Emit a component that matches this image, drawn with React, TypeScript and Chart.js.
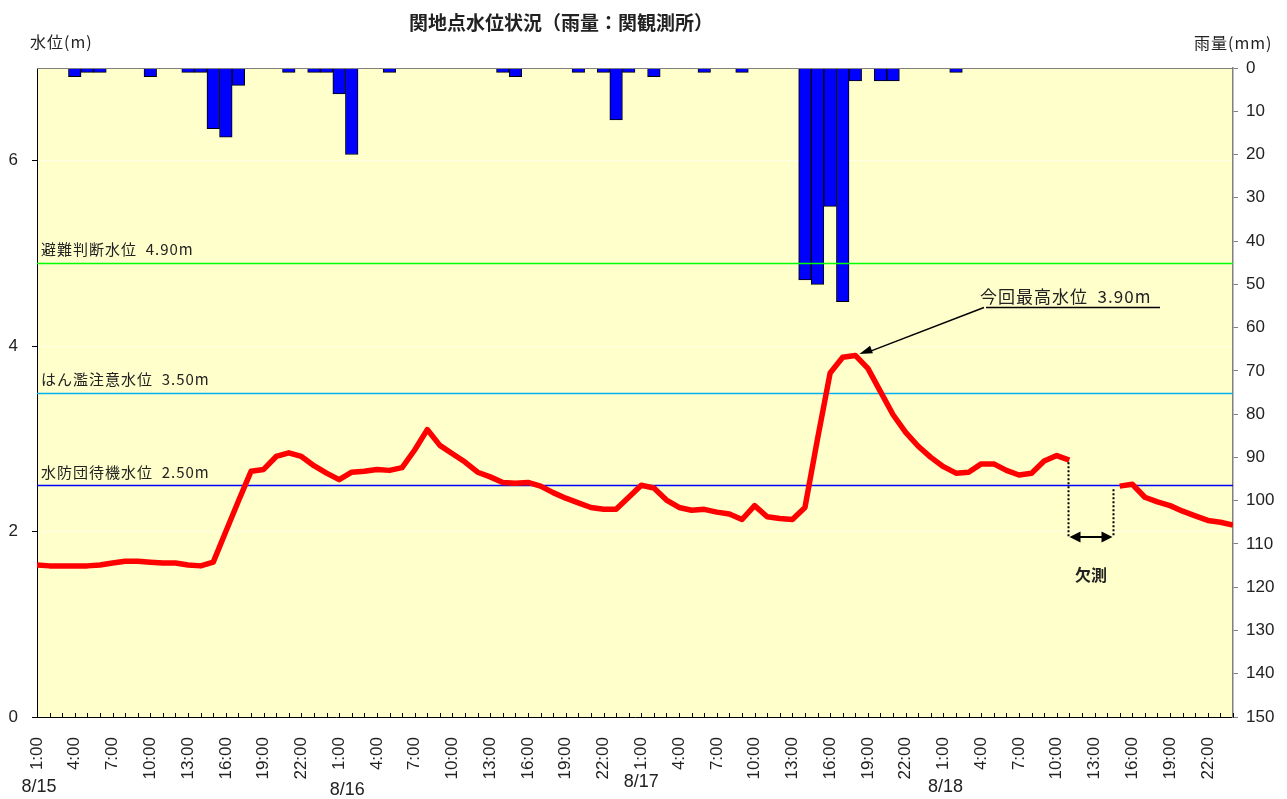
import React, { useEffect, useRef } from 'react';
import { Chart, registerables } from 'chart.js';

Chart.register(...registerables);

// ---------- data ----------
const days = ['8/15', '8/16', '8/17', '8/18'];
const hours = [
  '1:00', '2:00', '3:00', '4:00', '5:00', '6:00', '7:00', '8:00', '9:00', '10:00', '11:00', '12:00',
  '13:00', '14:00', '15:00', '16:00', '17:00', '18:00', '19:00', '20:00', '21:00', '22:00', '23:00', '24:00',
];
const categories = days.flatMap((d) => hours.map((h) => `${d} ${h}`));

// water level (m), hourly, 8/15 1:00 -> 8/18 24:00 (null = missing)
const waterLevel: (number | null)[] = [
  1.64, 1.63, 1.63, 1.63, 1.63, 1.64, 1.66, 1.68, 1.68, 1.67, 1.66, 1.66,
  1.64, 1.63, 1.67, 2.00, 2.33, 2.65, 2.67, 2.81, 2.85, 2.81, 2.71, 2.63,
  2.56, 2.64, 2.65, 2.67, 2.66, 2.69, 2.88, 3.10, 2.93, 2.84, 2.75, 2.64,
  2.59, 2.53, 2.52, 2.53, 2.49, 2.42, 2.36, 2.31, 2.26, 2.24, 2.24, 2.37,
  2.50, 2.47, 2.34, 2.26, 2.23, 2.24, 2.21, 2.19, 2.13, 2.28, 2.16, 2.14,
  2.13, 2.26, 3.00, 3.71, 3.88, 3.90, 3.76, 3.51, 3.26, 3.07, 2.92, 2.80,
  2.70, 2.63, 2.64, 2.73, 2.73, 2.66, 2.61, 2.63, 2.76, 2.82, 2.77, null,
  null, null, 2.49, 2.51, 2.37, 2.32, 2.28, 2.22, 2.17, 2.12, 2.10, 2.07,
];

// hourly rainfall (mm)
const rainfall: number[] = [
  0, 0, 0, 2, 1, 1, 0, 0, 0, 2, 0, 0,
  1, 1, 14, 16, 4, 0, 0, 0, 1, 0, 1, 1,
  6, 20, 0, 0, 1, 0, 0, 0, 0, 0, 0, 0,
  0, 1, 2, 0, 0, 0, 0, 1, 0, 1, 12, 1,
  0, 2, 0, 0, 0, 1, 0, 0, 1, 0, 0, 0,
  0, 49, 50, 32, 54, 3, 0, 3, 3, 0, 0, 0,
  0, 1, 0, 0, 0, 0, 0, 0, 0, 0, 0, 0,
  0, 0, 0, 0, 0, 0, 0, 0, 0, 0, 0, 0,
];

const thresholdValues = [4.9, 3.5, 2.5];
const thresholdLabels = ['避難判断水位  4.90m', 'はん濫注意水位  3.50m', '水防団待機水位  2.50m'];
const thresholdColors = ['#00FF00', '#00B0F0', '#0000FF'];

const chartTitle = '関地点水位状況（雨量：関観測所）';
const leftAxisTitle = '水位(m)';
const rightAxisTitle = '雨量(mm)';
const peakLabel = '今回最高水位  3.90m';
const missingLabel = '欠測';
const dayLabelIndex = [0, 24, 48, 72];

// ---------- layout ----------
const W = 1287;
const H = 799;
const PLOT_LEFT = 37;
const PLOT_RIGHT = 1233;
const PLOT_TOP = 68;
const PLOT_BOTTOM = 717;
const FONT_LATIN = "'Liberation Sans', 'Noto Sans CJK JP', sans-serif";
const FONT_CJK = "'Noto Sans CJK JP', 'Liberation Sans', sans-serif";
const TEXT = '#222';

function arrowHead(ctx: CanvasRenderingContext2D, fx: number, fy: number, tx: number, ty: number, len: number, wid: number) {
  const ang = Math.atan2(ty - fy, tx - fx);
  const c = Math.cos(ang);
  const s = Math.sin(ang);
  ctx.beginPath();
  ctx.moveTo(tx, ty);
  ctx.lineTo(tx - len * c + (wid / 2) * s, ty - len * s - (wid / 2) * c);
  ctx.lineTo(tx - len * c - (wid / 2) * s, ty - len * s + (wid / 2) * c);
  ctx.closePath();
  ctx.fill();
}

const overlayPlugin = {
  id: 'overlay',
  beforeDraw(chart: any) {
    const { ctx, chartArea: a } = chart;
    ctx.save();
    ctx.fillStyle = '#FFFFCC';
    ctx.fillRect(a.left, a.top, a.right - a.left, a.bottom - a.top);
    ctx.restore();
  },
  beforeDatasetDraw(chart: any, args: any) {
    if (args.index !== 1) return;
    const { ctx, chartArea: a, scales } = chart;
    ctx.save();
    thresholdValues.forEach((v, k) => {
      const py = Math.round(scales.y.getPixelForValue(v)) + 0.5;
      ctx.strokeStyle = thresholdColors[k];
      ctx.lineWidth = 1.5;
      ctx.beginPath();
      ctx.moveTo(a.left, py);
      ctx.lineTo(a.right, py);
      ctx.stroke();
    });
    ctx.restore();
  },
  afterDraw(chart: any) {
    const { ctx, chartArea: a, scales } = chart;
    const xs = scales.x;
    const ys = scales.y;
    ctx.save();

    // top border
    ctx.strokeStyle = '#808080';
    ctx.lineWidth = 1;
    ctx.beginPath();
    ctx.moveTo(a.left, a.top + 0.5);
    ctx.lineTo(a.right, a.top + 0.5);
    ctx.stroke();

    // hourly minor ticks on the category axis (inward)
    ctx.strokeStyle = '#000';
    ctx.lineWidth = 1;
    for (let i = 0; i < categories.length; i++) {
      const px = Math.round(xs.getPixelForValue(i)) + 0.5;
      ctx.beginPath();
      ctx.moveTo(px, a.bottom);
      ctx.lineTo(px, a.bottom - 4);
      ctx.stroke();
    }

    // title
    ctx.fillStyle = TEXT;
    ctx.textBaseline = 'middle';
    ctx.textAlign = 'center';
    ctx.font = `bold 19px ${FONT_CJK}`;
    ctx.fillText(chartTitle, 561, 23);

    // axis titles
    ctx.font = `16px ${FONT_CJK}`;
    (ctx as any).letterSpacing = '1px';
    ctx.textAlign = 'left';
    ctx.fillText(leftAxisTitle, 30, 42);
    ctx.fillText(rightAxisTitle, 1194, 43);

    // threshold labels
    ctx.font = `15px ${FONT_CJK}`;
    (ctx as any).letterSpacing = '1px';
    thresholdValues.forEach((v, k) => {
      const py = ys.getPixelForValue(v);
      ctx.fillText(thresholdLabels[k], a.left + 4, py - 13);
    });

    // date labels
    (ctx as any).letterSpacing = '0px';
    ctx.font = `18px ${FONT_LATIN}`;
    ctx.textAlign = 'center';
    const dayDx = [2, 8, 0, 2];
    const dayY = [787, 790, 782, 787];
    dayLabelIndex.forEach((idx, k) => {
      ctx.fillText(days[k], xs.getPixelForValue(idx) + dayDx[k], dayY[k]);
    });

    // peak annotation
    let peakIdx = 0;
    waterLevel.forEach((v, i) => {
      if (v !== null && v > (waterLevel[peakIdx] as number)) peakIdx = i;
    });
    const pkx = xs.getPixelForValue(peakIdx) + 4;
    const pky = ys.getPixelForValue(waterLevel[peakIdx] as number) - 3;
    ctx.textAlign = 'left';
    ctx.font = `17px ${FONT_CJK}`;
    (ctx as any).letterSpacing = '1px';
    ctx.fillText(peakLabel, 980, 297);
    (ctx as any).letterSpacing = '0px';
    ctx.strokeStyle = '#000';
    ctx.fillStyle = '#000';
    ctx.lineWidth = 1.5;
    ctx.beginPath();
    ctx.moveTo(986, 307.5);
    ctx.lineTo(1160, 307.5);
    ctx.stroke();
    ctx.beginPath();
    ctx.moveTo(984, 307.5);
    ctx.lineTo(pkx + 8, pky + 0);
    ctx.stroke();
    arrowHead(ctx, 984, 307.5, pkx, pky + 1.5, 13, 8);

    // missing-data annotation
    let lastIdx = 0;
    let nextIdx = 0;
    for (let i = 1; i < waterLevel.length; i++) {
      if (waterLevel[i] === null && waterLevel[i - 1] !== null) lastIdx = i - 1;
      if (waterLevel[i] !== null && waterLevel[i - 1] === null) nextIdx = i;
    }
    const xA = Math.round(xs.getPixelForValue(lastIdx)) - 0.5;
    const xB = Math.round(xs.getPixelForValue(nextIdx - 0.5)) + 0.5;
    const yArrow = 537;
    ctx.setLineDash([2, 2]);
    ctx.lineWidth = 2;
    ctx.beginPath();
    ctx.moveTo(xA, ys.getPixelForValue(waterLevel[lastIdx] as number) + 2);
    ctx.lineTo(xA, yArrow);
    ctx.moveTo(xB, ys.getPixelForValue(waterLevel[nextIdx] as number) + 3);
    ctx.lineTo(xB, yArrow);
    ctx.stroke();
    ctx.setLineDash([]);
    ctx.lineWidth = 2;
    ctx.beginPath();
    ctx.moveTo(xA + 6, yArrow);
    ctx.lineTo(xB - 6, yArrow);
    ctx.stroke();
    arrowHead(ctx, xB, yArrow, xA + 1, yArrow, 11, 11);
    arrowHead(ctx, xA, yArrow, xB - 1, yArrow, 11, 11);

    ctx.fillStyle = TEXT;
    ctx.textAlign = 'center';
    ctx.font = `bold 16px ${FONT_CJK}`;
    ctx.fillText(missingLabel, (xA + xB) / 2, 575);

    ctx.restore();
  },
};

export default function App() {
  const ref = useRef<HTMLCanvasElement | null>(null);

  useEffect(() => {
    if (!ref.current) return;
    Chart.defaults.font.family = FONT_LATIN;
    const chart = new Chart(ref.current, {
      type: 'bar',
      data: {
        labels: categories,
        datasets: [
          {
            type: 'bar',
            label: '雨量',
            data: rainfall,
            yAxisID: 'y2',
            backgroundColor: '#0000FF',
            borderColor: '#000000',
            borderWidth: 1,
            barPercentage: 1,
            categoryPercentage: 1,
            order: 1,
          } as any,
          {
            type: 'line',
            label: '水位',
            data: waterLevel,
            yAxisID: 'y',
            borderColor: '#FF0000',
            borderWidth: 5.5,
            pointRadius: 0,
            tension: 0,
            spanGaps: false,
            borderJoinStyle: 'round',
            clip: 0,
            order: 0,
          } as any,
        ],
      },
      options: {
        responsive: false,
        animation: false,
        devicePixelRatio: 1,
        layout: { padding: { top: PLOT_TOP, left: 0, right: 0, bottom: 0 } },
        plugins: {
          legend: { display: false },
          tooltip: { enabled: false },
          title: { display: false },
        },
        scales: {
          x: {
            type: 'category',
            offset: false,
            grid: { display: false, offset: false },
            border: { display: true, color: '#000', width: 1 },
            ticks: {
              autoSkip: false,
              maxRotation: 90,
              minRotation: 90,
              padding: 12,
              color: TEXT,
              font: { size: 17 },
              callback: (_v: any, i: number) => (i % 3 === 0 ? hours[i % 24] : ''),
            },
            afterFit: (s: any) => {
              s.height = H - PLOT_BOTTOM;
            },
          },
          y: {
            type: 'linear',
            position: 'left',
            min: 0,
            max: 7,
            grid: {
              color: 'rgba(255,255,255,0.5)',
              tickColor: '#000',
              tickLength: 5,
              drawTicks: true,
            },
            border: { display: true, color: '#000', width: 1 },
            ticks: {
              stepSize: 2,
              includeBounds: false,
              padding: 14,
              color: TEXT,
              font: { size: 17 },
            },
            afterFit: (s: any) => {
              s.width = PLOT_LEFT;
            },
          },
          y2: {
            type: 'linear',
            position: 'right',
            reverse: true,
            min: 0,
            max: 150,
            grid: {
              drawOnChartArea: false,
              color: '#808080',
              tickColor: '#808080',
              tickLength: 5,
            },
            border: { display: true, color: '#808080', width: 1.5 },
            ticks: {
              stepSize: 10,
              padding: 8,
              color: TEXT,
              font: { size: 17 },
            },
            afterFit: (s: any) => {
              s.width = W - PLOT_RIGHT;
            },
          },
        },
      } as any,
      plugins: [overlayPlugin],
    });
    return () => chart.destroy();
  }, []);

  return (
    <div style={{ position: 'fixed', left: 0, top: 0, width: W, height: H, background: '#fff' }}>
      <canvas ref={ref} width={W} height={H} style={{ display: 'block', width: W, height: H }} />
    </div>
  );
}
